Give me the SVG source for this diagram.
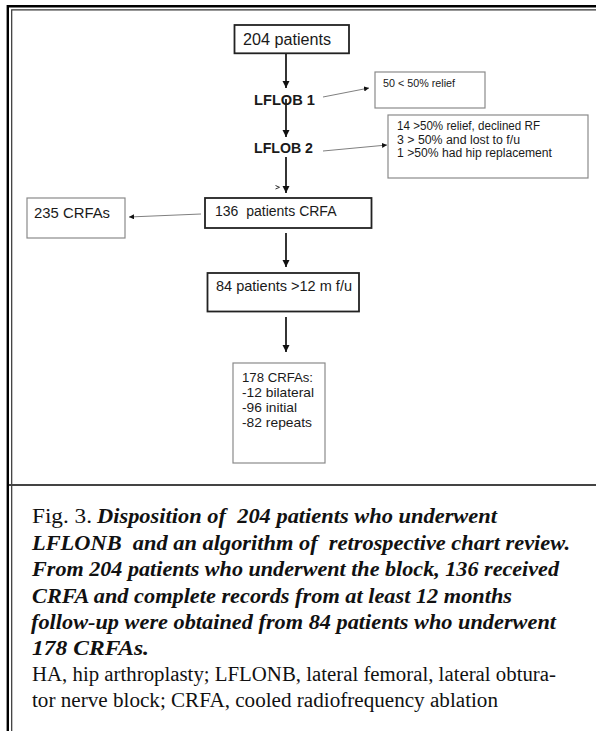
<svg xmlns="http://www.w3.org/2000/svg" width="596" height="731" viewBox="0 0 596 731">
<style>
.sans{font-family:"Liberation Sans",Arial,sans-serif;fill:#1a1a1a}
.serif{font-family:"Liberation Serif","Times New Roman",serif;fill:#111}
.bi{font-weight:bold;font-style:italic}
.thick{fill:#fff;stroke:#222;stroke-width:1.8}
.thin{fill:#fff;stroke:#8a8a8a;stroke-width:1.2}
.main{stroke:#111;stroke-width:1.7;fill:none}
.side{stroke:#808080;stroke-width:1;fill:none}
</style>
<defs>
<marker id="ah" markerUnits="userSpaceOnUse" markerWidth="8" markerHeight="8" refX="7" refY="3.5" orient="auto">
<path d="M0,0 L7,3.5 L0,7 z" fill="#111"/>
</marker>
<marker id="as" markerUnits="userSpaceOnUse" markerWidth="6" markerHeight="6" refX="5" refY="2.5" orient="auto">
<path d="M0,0 L5,2.5 L0,5 z" fill="#111"/>
</marker>
</defs>
<rect width="596" height="731" fill="#fff"/>
<g id="frame">
<path d="M7.8 731 V6.2 H596" fill="none" stroke="#000" stroke-width="2.4"/>
<path d="M11.7 731 V9.8 H596" fill="none" stroke="#333" stroke-width="1.2"/>
<line x1="9" y1="485" x2="596" y2="485" stroke="#444" stroke-width="1.8"/>
</g>
<g id="connectors">
<line class="main" x1="286" y1="53.5" x2="286" y2="88" marker-end="url(#ah)"/>
<line class="side" x1="323" y1="97" x2="369" y2="88" marker-end="url(#as)"/>
<line class="main" x1="286" y1="99" x2="286" y2="137" marker-end="url(#ah)"/>
<line class="side" x1="323" y1="151" x2="387" y2="145" marker-end="url(#as)"/>
<line class="main" x1="286" y1="157" x2="286" y2="193" marker-end="url(#ah)"/>
<path d="M275.5 185.5 L279.5 187.3 L275.5 189" fill="none" stroke="#333" stroke-width="1"/>
<line class="side" x1="201" y1="214" x2="129" y2="217" marker-end="url(#as)"/>
<line class="main" x1="286" y1="233" x2="286" y2="267" marker-end="url(#ah)"/>
<line class="main" x1="286" y1="317" x2="286" y2="352" marker-end="url(#ah)"/>
</g>
<g id="n204">
<rect class="thick" x="234.5" y="25" width="114.5" height="28.3"/>
<text class="sans" x="243" y="45" font-size="16" textLength="88" lengthAdjust="spacingAndGlyphs">204 patients</text>
</g>
<g id="lflob1">
<text class="sans" x="254" y="105" font-size="14.5" font-weight="bold" textLength="61" lengthAdjust="spacingAndGlyphs">LFLOB 1</text>
</g>
<g id="n50">
<rect class="thin" x="375" y="72" width="110" height="36"/>
<text class="sans" x="383" y="87" font-size="10.5" textLength="72" lengthAdjust="spacingAndGlyphs">50 &lt; 50% relief</text>
</g>
<g id="lflob2">
<text class="sans" x="254" y="153" font-size="14.5" font-weight="bold" textLength="59" lengthAdjust="spacingAndGlyphs">LFLOB 2</text>
</g>
<g id="n14">
<rect class="thin" x="388" y="115" width="200" height="63"/>
<text class="sans" x="397" y="130" font-size="12" textLength="143" lengthAdjust="spacingAndGlyphs">14 &gt;50% relief, declined RF</text>
<text class="sans" x="397" y="144" font-size="12" textLength="123" lengthAdjust="spacingAndGlyphs">3 &gt; 50% and lost to f/u</text>
<text class="sans" x="397" y="157" font-size="12" textLength="155" lengthAdjust="spacingAndGlyphs">1 &gt;50% had hip replacement</text>
</g>
<g id="n136">
<rect class="thick" x="205" y="198" width="166.5" height="30"/>
<text class="sans" x="215" y="216" font-size="14" xml:space="preserve" textLength="121.5" lengthAdjust="spacingAndGlyphs">136  patients CRFA</text>
</g>
<g id="n235">
<rect class="thin" x="27" y="198" width="98" height="40"/>
<text class="sans" x="34" y="218" font-size="14" textLength="76" lengthAdjust="spacingAndGlyphs">235 CRFAs</text>
</g>
<g id="n84">
<rect class="thick" x="207.5" y="273" width="151.5" height="38.5"/>
<text class="sans" x="216" y="291" font-size="14.5" textLength="136" lengthAdjust="spacingAndGlyphs">84 patients &gt;12 m f/u</text>
</g>
<g id="n178">
<rect class="thin" x="233" y="363" width="92" height="100"/>
<text class="sans" x="242" y="382" font-size="13.5" textLength="71" lengthAdjust="spacingAndGlyphs">178 CRFAs:</text>
<text class="sans" x="242" y="397" font-size="13.5" textLength="72" lengthAdjust="spacingAndGlyphs">-12 bilateral</text>
<text class="sans" x="242" y="412" font-size="13.5" textLength="55" lengthAdjust="spacingAndGlyphs">-96 initial</text>
<text class="sans" x="242" y="427" font-size="13.5" textLength="70" lengthAdjust="spacingAndGlyphs">-82 repeats</text>
</g>
<g id="caption" font-size="20">
<text class="serif" x="32" y="523" textLength="60" lengthAdjust="spacingAndGlyphs">Fig. 3.</text>
<text class="serif bi" x="97" y="523" xml:space="preserve" textLength="400" lengthAdjust="spacingAndGlyphs">Disposition of  204 patients who underwent</text>
<text class="serif bi" x="32" y="550" xml:space="preserve" textLength="538" lengthAdjust="spacingAndGlyphs">LFLONB  and an algorithm of  retrospective chart review.</text>
<text class="serif bi" x="32" y="576" textLength="527" lengthAdjust="spacingAndGlyphs">From 204 patients who underwent the block, 136 received</text>
<text class="serif bi" x="32" y="602.5" textLength="480" lengthAdjust="spacingAndGlyphs">CRFA and complete records from at least 12 months</text>
<text class="serif bi" x="31" y="629" textLength="525" lengthAdjust="spacingAndGlyphs">follow-up were obtained from 84 patients who underwent</text>
<text class="serif bi" x="32" y="655" textLength="117" lengthAdjust="spacingAndGlyphs">178 CRFAs.</text>
<text class="serif" x="32" y="681" textLength="524" lengthAdjust="spacingAndGlyphs">HA, hip arthroplasty; LFLONB, lateral femoral, lateral obtura-</text>
<text class="serif" x="32" y="707" textLength="466" lengthAdjust="spacingAndGlyphs">tor nerve block; CRFA, cooled radiofrequency ablation</text>
</g>
</svg>
